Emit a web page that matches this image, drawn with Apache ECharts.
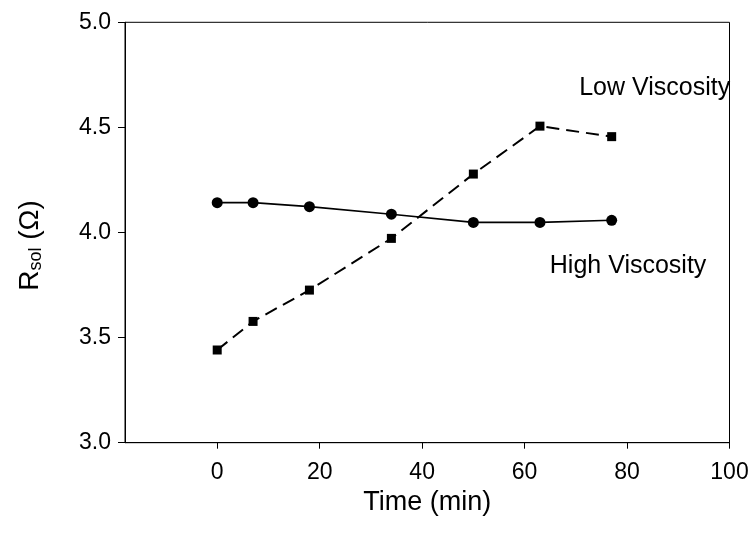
<!DOCTYPE html>
<html>
<head>
<meta charset="utf-8">
<script src="https://cdn.jsdelivr.net/npm/echarts@6/dist/echarts.min.js"></script>
<style>
  html, body { margin: 0; padding: 0; background: #fff; }
  #chart { width: 756px; height: 542px; }
</style>
</head>
<body>
<div id="chart"></div>
<script>
// Solution resistance over time for two viscosities
var timeMin = [0, 7, 18, 34, 50, 63, 77];
var highViscosity = [4.142, 4.142, 4.123, 4.087, 4.048, 4.048, 4.058];
var lowViscosity = [3.441, 3.577, 3.726, 3.972, 4.278, 4.506, 4.456];
var xTicks = [0, 20, 40, 60, 80, 100];
var yTicks = [3.0, 3.5, 4.0, 4.5, 5.0];
var lowLabel = { text: 'Low Viscosity', at: [85.4, 4.687] };
var highLabel = { text: 'High Viscosity', at: [80.2, 3.84] };

var FONT = "'Liberation Sans', Arial, Helvetica, sans-serif";

function pairs(xs, ys) {
  return xs.map(function (x, i) { return [x, ys[i]]; });
}

var chart = echarts.init(document.getElementById('chart'), null, { renderer: 'canvas' });

chart.setOption({
  backgroundColor: '#ffffff',
  animation: false,
  grid: {
    left: 125, right: 26.5, top: 22.3, bottom: 99.3,
    show: true, borderColor: '#000', borderWidth: 1, backgroundColor: 'transparent'
  },
  xAxis: {
    type: 'value',
    min: -18, max: 100,
    name: 'Time (min)',
    nameLocation: 'middle',
    nameGap: 42,
    nameTextStyle: { fontFamily: FONT, fontSize: 27, color: '#000' },
    axisLine: { show: true, onZero: false, lineStyle: { color: '#000', width: 1 } },
    axisTick: { show: true, inside: false, length: 6, customValues: xTicks, lineStyle: { color: '#000' } },
    axisLabel: {
      customValues: xTicks, margin: 18,
      fontFamily: FONT, fontSize: 23, color: '#000'
    },
    splitLine: { show: false }
  },
  yAxis: {
    type: 'value',
    min: yTicks[0], max: yTicks[yTicks.length - 1], interval: 0.5,
    name: '{r|R}{s|sol}{r| (Ω)}',
    nameLocation: 'middle',
    nameGap: 80,
    nameRotate: 90,
    nameTextStyle: {
      fontFamily: FONT, color: '#000',
      padding: [0, 26, 0, 0],
      rich: {
        r: { fontFamily: FONT, fontSize: 28, color: '#000' },
        s: { fontFamily: FONT, fontSize: 18, color: '#000', padding: [11, 0, 0, 0] }
      }
    },
    axisLine: { show: true, onZero: false, lineStyle: { color: '#000', width: 1 } },
    axisTick: { show: true, inside: false, length: 7, lineStyle: { color: '#000' } },
    axisLabel: {
      margin: 14,
      fontFamily: FONT, fontSize: 23, color: '#000',
      formatter: function (v) { return v.toFixed(1); }
    },
    splitLine: { show: false }
  },
  series: [
    {
      name: 'High Viscosity',
      type: 'line',
      data: pairs(timeMin, highViscosity),
      symbol: 'circle',
      symbolSize: 11,
      itemStyle: { color: '#000' },
      lineStyle: { color: '#000', width: 1.6, type: 'solid' },
      markPoint: {
        symbol: 'rect', symbolSize: 0,
        label: { show: true, position: 'inside', fontFamily: FONT, fontSize: 25, color: '#000', formatter: highLabel.text },
        data: [{ coord: highLabel.at }]
      },
      z: 3
    },
    {
      name: 'Low Viscosity',
      type: 'line',
      data: pairs(timeMin, lowViscosity),
      symbol: 'rect',
      symbolSize: 9,
      itemStyle: { color: '#000' },
      lineStyle: { color: '#000', width: 2, type: [13, 7] },
      markPoint: {
        symbol: 'rect', symbolSize: 0,
        label: { show: true, position: 'inside', fontFamily: FONT, fontSize: 25, color: '#000', formatter: lowLabel.text },
        data: [{ coord: lowLabel.at }]
      },
      z: 2
    }
  ]
});
</script>
</body>
</html>
